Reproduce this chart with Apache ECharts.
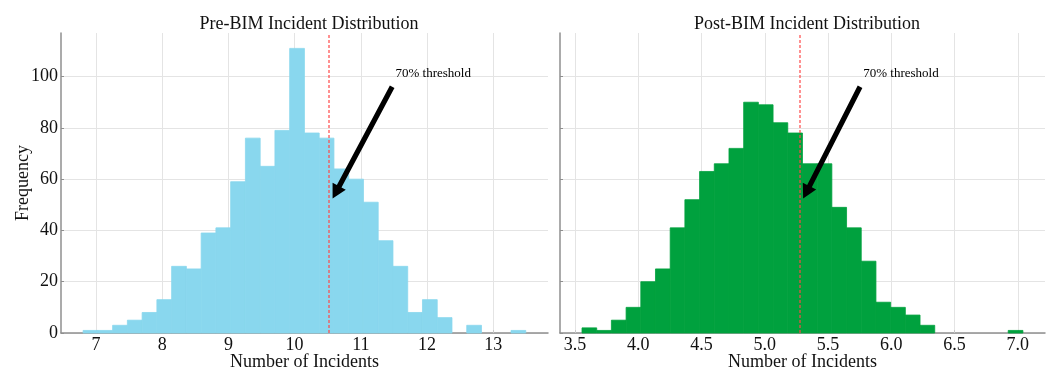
<!DOCTYPE html>
<html><head><meta charset="utf-8">
<script src="https://cdn.jsdelivr.net/npm/echarts@6/dist/echarts.min.js"></script>
<style>html,body{margin:0;padding:0;background:#fff}#c{width:1052px;height:370px}</style>
</head><body><div id="c"></div>
<script>
// ---- data ----
const preCounts = [1,1,3,5,8,13,26,25,39,41,59,76,65,79,111,78,76,64,60,51,36,26,8,13,6,0,3,0,0,1];
const preBinStart = 6.805;
const preBinWidth = 0.2229;
const postCounts = [2,1,5,10,20,25,41,52,63,66,72,90,89,82,78,66,66,49,41,28,12,10,7,3,0,0,0,0,0,1];
const postBinStart = 3.555;
const postBinWidth = 0.11618;
const preThreshold = 10.524;
const postThreshold = 5.278;
const preTicks = [7, 8, 9, 10, 11, 12, 13];
const postTicks = [3.5, 4.0, 4.5, 5.0, 5.5, 6.0, 6.5, 7.0];
const yTicks = [0, 20, 40, 60, 80, 100];
const titles = ['Pre-BIM Incident Distribution', 'Post-BIM Incident Distribution'];
const xName = 'Number of Incidents';
const yName = 'Frequency';
const annotationText = '70% threshold';

// ---- helpers ----
function bins(counts, start, width) {
  return counts.map((c, i) => [start + i * width, start + (i + 1) * width, c]);
}
const FONT = '"Liberation Serif", "Times New Roman", serif';

function barRender(color) {
  return function (params, api) {
    const s = api.value(0), e = api.value(1), c = api.value(2);
    if (!c) return null;
    const p0 = api.coord([s, c]);
    const p1 = api.coord([e, 0]);
    return {
      type: 'rect',
      shape: { x: p0[0], y: p0[1], width: p1[0] - p0[0], height: p1[1] - p0[1] },
      style: { fill: color, stroke: color, lineWidth: 0.8 }
    };
  };
}

function annotRender(textOffset) {
  return function (params, api) {
    const thr = api.value(0);
    const tp = api.coord([thr + textOffset, 100]);
    const xy = api.coord([thr, 50]);
    const sx = tp[0], sy = tp[1] + 4;
    const dx = xy[0] - sx, dy = xy[1] - sy;
    const tail = [sx + dx * 0.05, sy + dy * 0.05];
    const tip = [xy[0] - dx * 0.05, xy[1] - dy * 0.05];
    const L = Math.hypot(tip[0] - tail[0], tip[1] - tail[1]);
    const ux = (tip[0] - tail[0]) / L, uy = (tip[1] - tail[1]) / L;
    const nx = -uy, ny = ux;
    const w = 2.6, hw = 7.5, hl = 14;
    const bx = tip[0] - ux * hl, by = tip[1] - uy * hl;
    const pts = [
      [tail[0] + nx * w, tail[1] + ny * w],
      [bx + nx * w, by + ny * w],
      [bx + nx * hw, by + ny * hw],
      tip,
      [bx - nx * hw, by - ny * hw],
      [bx - nx * w, by - ny * w],
      [tail[0] - nx * w, tail[1] - ny * w]
    ];
    return {
      type: 'group',
      children: [
        { type: 'polygon', shape: { points: pts }, style: { fill: '#000' } },
        { type: 'text', style: { text: annotationText, x: tp[0], y: tp[1] + 3, font: '13px ' + FONT, fill: '#000', align: 'left', verticalAlign: 'bottom' } }
      ]
    };
  };
}

const axisLineStyle = { color: '#8f8f8f', width: 1.5 };
const labelStyle = { color: '#111', fontFamily: FONT, fontSize: 18 };
const splitStyle = { color: '#e4e4e4', width: 1 };

function xAxis(idx, min, max, ticks, fmt) {
  return {
    gridIndex: idx, type: 'value', min: min, max: max,
    axisLine: { show: true, onZero: false, lineStyle: axisLineStyle },
    axisTick: { show: true, inside: true, length: 3, customValues: ticks, lineStyle: { color: '#c8c8c8' } },
    axisLabel: { customValues: ticks, margin: 3, formatter: fmt, ...labelStyle },
    splitLine: { show: true, lineStyle: splitStyle },
    name: xName, nameLocation: 'middle', nameGap: 20, nameMoveOverlap: false,
    nameTextStyle: { ...labelStyle }
  };
}
function yAxis(idx, showLabels) {
  return {
    gridIndex: idx, type: 'value', min: 0, max: 117,
    axisLine: { show: true, lineStyle: axisLineStyle },
    axisTick: { show: true, inside: true, length: 3, customValues: yTicks, lineStyle: { color: '#8f8f8f' } },
    axisLabel: { show: showLabels, customValues: yTicks, margin: 3, ...labelStyle },
    splitLine: { show: true, lineStyle: splitStyle },
    name: showLabels ? yName : '', nameLocation: 'middle', nameGap: 29, nameMoveOverlap: false,
    nameTextStyle: { ...labelStyle }
  };
}

function thresholdLine(v) {
  return {
    silent: true, symbol: 'none', label: { show: false },
    lineStyle: { color: 'rgba(255,70,70,0.8)', type: [3, 2], width: 1.5 },
    data: [{ xAxis: v }]
  };
}

const chart = echarts.init(document.getElementById('c'), null, { renderer: 'canvas' });
chart.setOption({
  backgroundColor: '#fff',
  animation: false,
  title: [
    { text: titles[0], left: 304, top: 10, textAlign: 'center', textStyle: { color: '#111', fontFamily: FONT, fontSize: 18, fontWeight: 'normal' } },
    { text: titles[1], left: 802, top: 10, textAlign: 'center', textStyle: { color: '#111', fontFamily: FONT, fontSize: 18, fontWeight: 'normal' } }
  ],
  grid: [
    { left: 61, right: 504, top: 33, bottom: 37, outerBoundsMode: 'none', containLabel: false },
    { left: 560, right: 7, top: 33, bottom: 37, outerBoundsMode: 'none', containLabel: false }
  ],
  xAxis: [
    xAxis(0, 6.471, 13.828, preTicks, v => String(v)),
    xAxis(1, 3.381, 7.215, postTicks, v => Number(v).toFixed(1))
  ],
  yAxis: [yAxis(0, true), yAxis(1, false)],
  series: [
    { type: 'custom', xAxisIndex: 0, yAxisIndex: 0, renderItem: barRender('#89d7ee'), encode: { x: [0, 1], y: 2 }, data: bins(preCounts, preBinStart, preBinWidth), markLine: thresholdLine(preThreshold), z: 2 },
    { type: 'custom', xAxisIndex: 1, yAxisIndex: 1, renderItem: barRender('#00a13e'), encode: { x: [0, 1], y: 2 }, data: bins(postCounts, postBinStart, postBinWidth), markLine: thresholdLine(postThreshold), z: 2 },
    { type: 'custom', xAxisIndex: 0, yAxisIndex: 0, renderItem: annotRender(1.0), encode: { x: 0 }, data: [[preThreshold]], z: 10, silent: true },
    { type: 'custom', xAxisIndex: 1, yAxisIndex: 1, renderItem: annotRender(0.5), encode: { x: 0 }, data: [[postThreshold]], z: 10, silent: true }
  ]
});
</script>
</body></html>
